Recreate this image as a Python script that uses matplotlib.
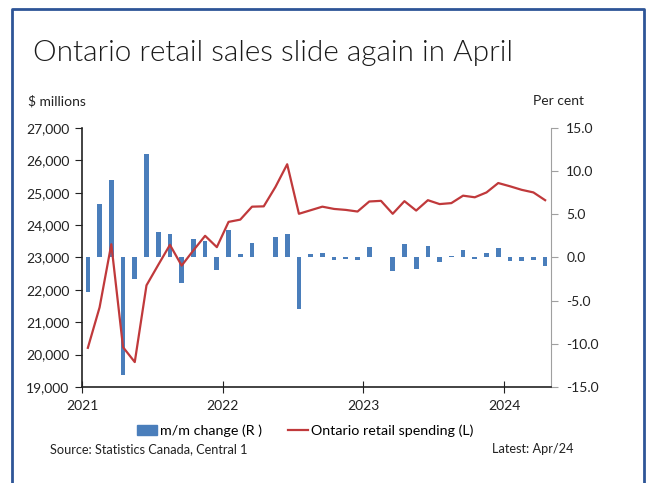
import matplotlib.pyplot as plt
from matplotlib.patches import Rectangle
from matplotlib.lines import Line2D
from matplotlib.ticker import FuncFormatter
import numpy as np

plt.rcParams['font.family'] = ['Lato', 'DejaVu Sans']

# Monthly data Jan 2021 - Apr 2024
spending = [20210, 21460, 23410, 20230, 19770, 22140, 22770, 23390, 22750, 23220, 23670, 23320,
            24100, 24170, 24570, 24580, 25180, 25880, 24350, 24460, 24570, 24500, 24470, 24420,
            24730, 24750, 24350, 24740, 24450, 24770, 24650, 24680, 24910, 24860, 25010, 25300,
            25200, 25090, 25010, 24770]
mm_change = [-4.0, 6.2, 9.0, -13.6, -2.5, 12.0, 3.0, 2.7, -3.0, 2.2, 1.9, -1.5,
             3.2, 0.35, 1.7, 0.1, 2.4, 2.7, -6.0, 0.4, 0.5, -0.3, -0.2, -0.25,
             1.2, 0.1, -1.6, 1.6, -1.3, 1.35, -0.5, 0.15, 0.9, -0.2, 0.55, 1.15,
             -0.45, -0.4, -0.3, -1.0]
years = ['2021', '2022', '2023', '2024']

blue = '#4a7ebb'
red = '#c0393b'

fig = plt.figure(figsize=(6.46, 4.83), dpi=100)
ax = fig.add_axes([82 / 646, 1 - 387 / 483, (551 - 82) / 646, (387 - 128) / 483])
ax2 = ax.twinx()

x = np.arange(len(spending)) + 0.5
ax2.bar(x, mm_change, width=0.4, color=blue, zorder=1)
ax.plot(x, spending, color=red, lw=1.6, zorder=3)
ax.set_zorder(ax2.get_zorder() + 1)
ax.patch.set_visible(False)

ax.set_xlim(0, len(spending))
ax.set_ylim(19000, 27000)
ax.set_yticks(range(19000, 27001, 1000))
ax.yaxis.set_major_formatter(FuncFormatter(lambda v, p: f'{int(v):,}'))
ax2.set_ylim(-15, 15)
ax2.set_yticks(range(-15, 16, 5))
ax2.yaxis.set_major_formatter(FuncFormatter(lambda v, p: f'{v:.1f}'))

ax.set_xticks([0, 12, 24, 36])
ax.set_xticklabels(years)

for a in (ax, ax2):
    a.spines['top'].set_visible(False)
ax.spines['right'].set_visible(False)
ax2.spines['left'].set_visible(False)
ax2.spines['bottom'].set_visible(False)
ax2.spines['right'].set_color('#a0a0a0')
ax.spines['left'].set_color('#222222')
ax.spines['bottom'].set_color('#222222')
ax.spines['left'].set_linewidth(1.2)
ax.spines['bottom'].set_linewidth(1.2)

ax.tick_params(axis='y', direction='out', length=5, labelsize=10, colors='#222222', pad=4)
ax.tick_params(axis='x', direction='inout', length=8, labelsize=10, colors='#222222', pad=5)
ax2.tick_params(axis='y', direction='out', length=5, labelsize=10, colors='#a0a0a0',
                labelcolor='#222222', pad=6)

fig.text(33 / 646, 1 - 53 / 483, 'Ontario retail sales slide again in April',
         fontsize=21.4, fontweight=300, va='center', ha='left', color='#1a1a1a')
fig.text(28 / 646, 1 - 101 / 483, '$ millions', fontsize=10, va='center', ha='left', color='#222222')
fig.text(584 / 646, 1 - 101 / 483, 'Per cent', fontsize=10, va='center', ha='right', color='#222222')

handles = [Rectangle((0, 0), 1, 1, color=blue), Line2D([0], [0], color=red, lw=1.6)]
fig.legend(handles, ['m/m change (R )', 'Ontario retail spending (L)'],
           loc='center', bbox_to_anchor=(305 / 646, 1 - 431 / 483), ncol=2, frameon=False,
           fontsize=10.3, handlelength=1.4, handletextpad=0.2, columnspacing=1.8)

fig.text(50 / 646, 1 - 449 / 483, 'Source: Statistics Canada, Central 1', fontsize=9.2,
         va='center', ha='left', color='#222222')
fig.text(573 / 646, 1 - 449 / 483, 'Latest: Apr/24', fontsize=9.2,
         va='center', ha='right', color='#222222')

# frame around the chart (open at the bottom)
frame = '#2e5597'
fig.add_artist(Line2D([12 / 646, 12 / 646, 644 / 646, 644 / 646],
                      [0, 1 - 9 / 483, 1 - 9 / 483, 0],
                      color=frame, lw=2, transform=fig.transFigure))

fig.savefig('out.png', dpi=100)
